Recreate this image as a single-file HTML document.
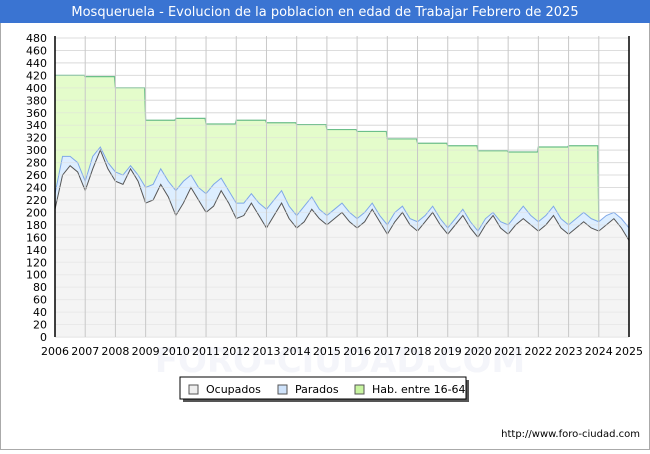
<!DOCTYPE html>
<html><head><meta charset="utf-8"><style>
body{margin:0;width:650px;height:450px;overflow:hidden;background:#fff;font-family:"DejaVu Sans","Liberation Sans",sans-serif}
</style></head><body>
<svg width="650" height="450" xmlns="http://www.w3.org/2000/svg">
<rect x="0.5" y="0.5" width="649" height="449" fill="#fff" stroke="#aaa"/>
<rect x="0" y="0" width="650" height="23" fill="#3a74d2"/>
<text x="325" y="16" text-anchor="middle" fill="#fff" font-size="13">Mosqueruela - Evolucion de la poblacion en edad de Trabajar Febrero de 2025</text>
<text x="340" y="372" text-anchor="middle" fill="#f4f5fa" font-size="34" font-weight="bold">FORO-CIUDAD.COM</text>
<g id="plot"></g>
<g id="axes"></g>
<rect x="183" y="380" width="286" height="22" fill="#555"/>
<rect x="180" y="377" width="286" height="22" fill="#fff" stroke="#000"/>
<rect x="189" y="385" width="9" height="9" fill="#eee" stroke="#555"/>
<text x="206" y="393" font-size="11">Ocupados</text>
<rect x="278" y="385" width="9" height="9" fill="#cfe3fb" stroke="#555"/>
<text x="295" y="393" font-size="11">Parados</text>
<rect x="355" y="385" width="9" height="9" fill="#c8f5a0" stroke="#555"/>
<text x="372" y="393" font-size="11">Hab. entre 16-64</text>
<text x="640" y="437" text-anchor="end" font-size="10">http://www.foro-ciudad.com</text>
</svg>
<script>
const years=[2006,2007,2008,2009,2010,2011,2012,2013,2014,2015,2016,2017,2018,2019,2020,2021,2022,2023,2024,2025];
const habValues=[420,418,400,348,351,342,348,344,341,333,330,318,311,307,299,297,305,307];
const ocupados=[205,260,275,265,235,270,300,270,250,245,270,250,215,220,245,225,195,215,240,220,200,210,235,215,190,195,215,195,175,195,215,190,175,185,205,190,180,190,200,185,175,185,205,185,165,185,200,180,170,185,200,180,165,180,195,175,160,180,195,175,165,180,190,180,170,180,195,175,165,175,185,175,170,180,190,175,155];
const totales=[230,290,290,280,250,290,305,280,265,260,275,260,240,245,270,250,235,250,260,240,230,245,255,235,215,215,230,215,205,220,235,210,195,210,225,205,195,205,215,200,190,200,215,195,180,200,210,190,185,195,210,190,175,190,205,185,170,190,200,185,180,195,210,195,185,195,210,190,180,190,200,190,185,195,200,190,175];
const yTicks=[0,20,40,60,80,100,120,140,160,180,200,220,240,260,280,300,320,340,360,380,400,420,440,460,480];
const X0=55,X1=629,Y0=337,Y1=38;
const sx=t=>X0+(t-2006)/(2025-2006)*(X1-X0);
const sy=v=>Y0-v/480*(Y0-Y1);
const NS="http://www.w3.org/2000/svg";
const plot=document.getElementById('plot'),axes=document.getElementById('axes');
function mk(tag,attrs,parent){const e=document.createElementNS(NS,tag);for(const k in attrs)e.setAttribute(k,attrs[k]);parent.appendChild(e);return e;}
const bg=mk('rect',{x:X0,y:Y1-2,width:X1-X0,height:Y0-Y1+2,fill:'#fff'},plot);


yTicks.forEach(v=>{
 const l=mk('line',{x1:X0,x2:X1,y1:sy(v),y2:sy(v),stroke:'#ddd'},plot);
 
 
});
let hp=`M${sx(2006)},${sy(0)}`;
habValues.forEach((v,i)=>{hp+=` L${sx(years[i])},${sy(v)} L${sx(years[i]+1)-1},${sy(v)}`;});
const lastHabX=sx(2006+habValues.length);
const tIdx=(habValues.length)*4;
hp+=` L${lastHabX},${sy(totales[tIdx])} L${lastHabX},${sy(0)} Z`;
const ha=mk('path',{d:hp,fill:'#e4fccb',stroke:'none'},plot);


let hl=`M${sx(2006)},${sy(habValues[0])}`;
habValues.forEach((v,i)=>{hl+=` L${sx(years[i])},${sy(v)} L${sx(years[i]+1)-1},${sy(v)}`;});
hl+=` L${lastHabX},${sy(totales[tIdx])}`;
const hln=mk('path',{d:hl,fill:'none',stroke:'#6cbf8a','stroke-width':1.2},plot);


const tx=i=>sx(2006+i/4);
function area(arr,fill,stroke,name){
 let d=`M${tx(0)},${sy(0)}`;arr.forEach((v,i)=>d+=` L${tx(i)},${sy(v)}`);d+=` L${tx(arr.length-1)},${sy(0)} Z`;
 const a=mk('path',{d:d,fill:fill},plot);
 
 
 let l='';arr.forEach((v,i)=>l+=(i?' L':'M')+tx(i)+','+sy(v));
 const p=mk('path',{d:l,fill:'none',stroke:stroke,'stroke-width':1},plot);
 
 
}
area(totales,'#ddeeff','#7fa8e8','parados');
area(ocupados,'#f4f4f4','#555','ocupados');
yTicks.forEach(v=>{
 const l=mk('line',{x1:X0,x2:X1,y1:sy(v),y2:sy(v),stroke:'#ddd','stroke-opacity':0.5},axes);
 
 
 const t=mk('text',{x:47,y:sy(v)+4,'text-anchor':'end','font-size':11},axes);
 t.textContent=v;
 
 
});
years.forEach(y=>{
 const l=mk('line',{x1:sx(y),x2:sx(y),y1:Y1-2,y2:Y0,stroke:'#c8c8c8'},axes);
 
 
 const t=mk('text',{x:sx(y),y:355,'text-anchor':'middle','font-size':11},axes);
 t.textContent=y;
 
 
});
const ax=mk('path',{d:`M${X0},${Y1-2} L${X0},${Y0} M${X1},${Y1-2} L${X1},${Y0}`,stroke:'#000','stroke-width':1.5,fill:'none'},axes);


</script>
</body></html>
